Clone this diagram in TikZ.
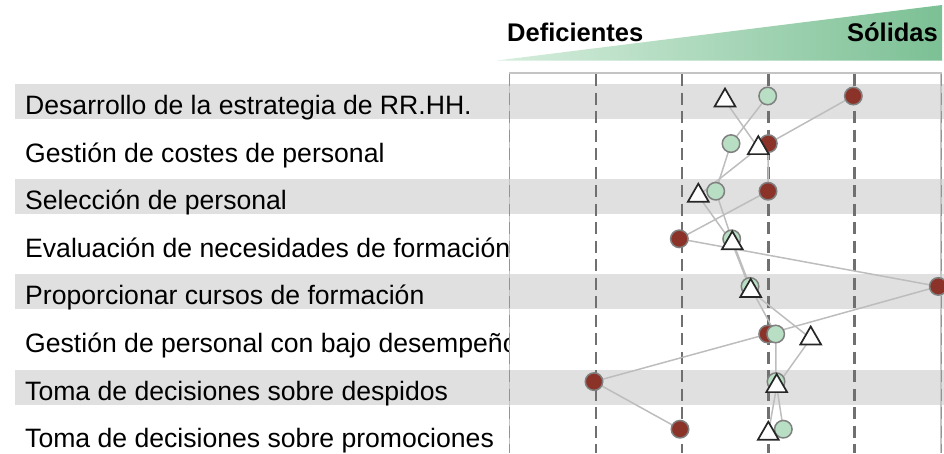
\documentclass[tikz,border=0pt]{standalone}
\usepackage{fontspec}
\setmainfont{Liberation Sans}
\usetikzlibrary{shapes.geometric}
\definecolor{bandgray}{HTML}{E0E0E0}
\definecolor{gridgray}{HTML}{707070}
\definecolor{framegray}{HTML}{C4C4C4}
\definecolor{linegray}{HTML}{BDBDBD}
\definecolor{dotred}{HTML}{8B3328}
\definecolor{dotgreen}{HTML}{B8DFC3}
\definecolor{edgegray}{HTML}{808080}
\definecolor{wedgeL}{HTML}{D6EEDD}
\definecolor{wedgeR}{HTML}{7CC095}
\tikzset{
  rowlabel/.style={anchor=base west, inner sep=0pt, font=\fontsize{26.6}{30}\selectfont},
  headlabel/.style={inner sep=0pt, font=\fontsize{25.5}{30}\selectfont\bfseries},
  rowband/.style={fill=bandgray, draw=none},
  gridline/.style={draw=gridgray, line width=2.5pt, dash pattern=on 12pt off 6.5pt},
  edgeline/.style={draw=framegray, line width=1.4pt},
  edgedash/.style={draw=gridgray!75, line width=1pt, dash pattern=on 12pt off 6.5pt},
  series/.style={draw=linegray, line width=1.5pt},
  reddot/.style={circle, fill=dotred, draw=edgegray, line width=1.5pt, minimum size=17.5pt, inner sep=0pt},
  greendot/.style={circle, fill=dotgreen, draw=edgegray, line width=1.5pt, minimum size=17.5pt, inner sep=0pt},
  trimark/.style={regular polygon, regular polygon sides=3, fill=white, draw=black!85, line width=1.7pt, minimum size=24pt, inner sep=0pt},
}
\begin{document}
\begin{tikzpicture}[x=1pt,y=-1pt]
\useasboundingbox (0,0) rectangle (944,453);
% header wedge
\shade[left color=wedgeL, right color=wedgeR] (497,60.5) -- (942,5) -- (942,60.5) -- cycle;
\node[headlabel, anchor=base west] (def) at (507,41.5) {Deficientes};
\node[headlabel, anchor=base east] (sol) at (938,41.5) {Sólidas};
% bands
\foreach \i in {1,3,5,7} {
  \pgfmathsetmacro{\yy}{96+47.6*(\i-1)}
  \fill[rowband] (15,\yy-12) rectangle (944,\yy+23);
}
% labels (clipped at the plot's left edge)
\begin{scope}
\clip (0,0) rectangle (509,453);
\node[rowlabel] (l1) at (25,114.5) {Desarrollo de la estrategia de RR.HH.};
\node[rowlabel] (l2) at (25,162.1) {Gestión de costes de personal};
\node[rowlabel] (l3) at (25,209.7) {Selección de personal};
\node[rowlabel] (l4) at (25,257.3) {Evaluación de necesidades de formación};
\node[rowlabel] (l5) at (25,304.9) {Proporcionar cursos de formación};
\node[rowlabel] (l6) at (25,352.5) {Gestión de personal con bajo desempeño};
\node[rowlabel] (l7) at (25,400.1) {Toma de decisiones sobre despidos};
\node[rowlabel] (l8) at (25,447.7) {Toma de decisiones sobre promociones};
\end{scope}
% grid
\draw[edgeline] (509.5,453) -- (509.5,73) -- (941,73) -- (941,453);
\draw[edgedash] (509.5,74) -- (509.5,453);
\draw[edgedash] (941,74) -- (941,453);
\foreach \gx in {595.8,682.1,768.4,854.7} {
  \draw[gridline] (\gx,74) -- (\gx,453);
}
% data coordinates
\foreach \i/\rx/\gx/\tx in {1/853.3/767.7/725, 2/768.3/731/758.3, 3/768/715.7/698.3, 4/679.3/731.7/732.3, 5/938.3/750/750.7, 6/767.7/775.7/810.7, 7/594/776/776.7, 8/680/783.3/768.3} {
  \pgfmathsetmacro{\yy}{96+47.6*(\i-1)}
  \coordinate (r\i) at (\rx,\yy);
  \coordinate (g\i) at (\gx,\yy);
  \coordinate (t\i) at (\tx,\yy+4.5);
}
% series lines
\draw[series] (r1) -- (r2) -- (r3) -- (r4) -- (r5) -- (r6) -- (r7) -- (r8);
\draw[series] (g1) -- (g2) -- (g3) -- (g4) -- (g5) -- (g6) -- (g7) -- (g8);
\draw[series] (t1) -- (t2) -- (t3) -- (t4) -- (t5) -- (t6) -- (t7) -- (t8);
% markers
\foreach \i in {1,...,8} {
  \node[reddot] (R\i) at (r\i) {};
}
\foreach \i in {1,...,8} {
  \node[greendot] (G\i) at (g\i) {};
}
\foreach \i in {1,...,8} {
  \node[trimark] (T\i) at (t\i) {};
}
\end{tikzpicture}
\end{document}
